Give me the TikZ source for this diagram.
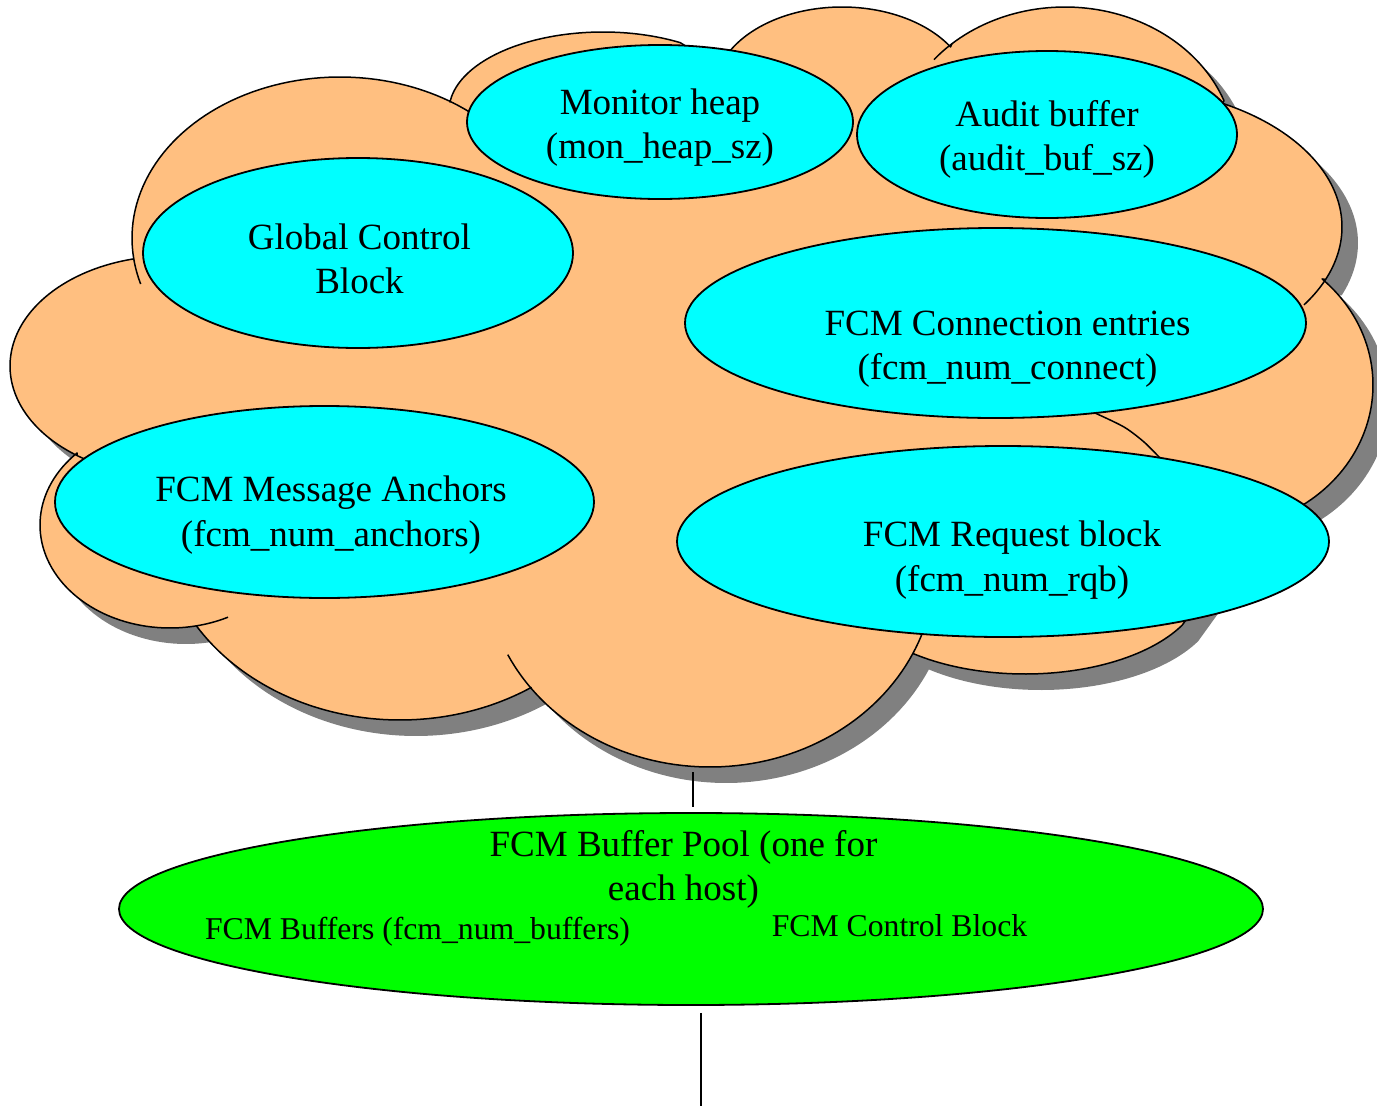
\documentclass[tikz,border=0pt]{standalone}
\usepackage{fontspec}
\setmainfont{Liberation Serif}
\usetikzlibrary{shapes.geometric}
\definecolor{cloudfill}{RGB}{255,191,128}
\definecolor{cloudshadow}{RGB}{128,128,128}
\definecolor{memcyan}{RGB}{0,255,255}
\definecolor{poolgreen}{RGB}{0,255,0}
% elliptic arc of a cloud lobe: centre x, centre y, x radius, y radius, from angle, to angle
\newcommand{\lobe}[6]{plot[domain=#5:#6, samples=60, variable=\t] ({#1+#3*cos(\t)},{#2+#4*sin(\t)})}
\newcommand{\lobeto}[6]{-- plot[domain=#5:#6, samples=60, variable=\t] ({#1+#3*cos(\t)},{#2+#4*sin(\t)})}
\newcommand{\cloudoutline}{%
  \lobe{340}{238}{208}{161}{172.5}{302}
  \lobeto{603}{111}{154}{79}{186.5}{300.1}
  -- (705,58)
  \lobeto{842}{92}{128}{85}{209.6}{328}
  \lobeto{1065}{152}{170}{145}{228.3}{339.3}
  \lobeto{1117}{227}{225}{140}{297.9}{382}
  \lobeto{1213}{385}{160}{145}{313}{435}
  \lobeto{1025}{582}{178}{92}{28}{129}
  \lobeto{710}{567}{225}{200}{25.6}{142.7}
  \lobeto{400}{520}{240}{200}{56.9}{148}
  \lobeto{170}{525}{130}{103}{78.2}{224.4}
  \lobeto{170}{366}{160}{110}{125.5}{256.6}
  -- cycle}
\begin{document}
\begin{tikzpicture}[x=1pt,y=-1pt,
  cloudline/.style={line width=1.5pt, line join=round},
  stubline/.style={line width=1.5pt},
  memblock/.style={ellipse, draw, line width=1.8pt, fill=memcyan, inner sep=0pt},
  poolblock/.style={ellipse, draw, line width=1.8pt, fill=poolgreen, inner sep=0pt},
  bigtext/.style={font=\fontsize{37}{44.5}\selectfont, align=center, inner sep=0pt},
  smalltext/.style={font=\fontsize{31.7}{38}\selectfont, inner sep=0pt, anchor=base},
  conn/.style={line width=1.5pt}]
\useasboundingbox (0,0) rectangle (1377,1106);
% shadow
\begin{scope}[shift={(16,16)}]
\fill[cloudshadow] \cloudoutline;
\end{scope}
% cloud
\filldraw[cloudline, fill=cloudfill] \cloudoutline;
% inner arc ends of the cloud lobes
\draw[stubline] \lobe{340}{238}{208}{161}{163.4}{172.5};
\draw[stubline] \lobe{340}{238}{208}{161}{302}{308.4};
\draw[stubline] \lobe{1065}{152}{170}{145}{219.6}{228.3};
\draw[stubline] \lobe{1117}{227}{225}{140}{382}{393.8};
\draw[stubline] \lobe{710}{567}{225}{200}{19}{25.6};
\draw[stubline] \lobe{710}{567}{225}{200}{142.7}{154};
\draw[stubline] \lobe{170}{525}{130}{103}{63.5}{78.2};
\draw[stubline] \lobe{170}{366}{160}{110}{118}{125.5};
\draw[stubline] plot[smooth] coordinates {(1095,413) (1124,427) (1144,442) (1160,458)};
% memory blocks
\node[memblock, minimum width=386pt, minimum height=154pt] (mh) at (660,122) {};
\node[memblock, minimum width=380pt, minimum height=167pt] (ab) at (1047,134.5) {};
\node[memblock, minimum width=430pt, minimum height=190pt] (gcb) at (358,253) {};
\node[memblock, minimum width=621pt, minimum height=190pt] (fce) at (995.5,323) {};
\node[memblock, minimum width=539pt, minimum height=192pt] (fma) at (324.5,502) {};
\node[memblock, minimum width=652pt, minimum height=191pt] (frb) at (1003,541.5) {};
\node[bigtext] (mhT) at (660,127.4) {\strut Monitor heap\\\strut (mon\_heap\_sz)};
\node[bigtext] (abT) at (1047,139.4) {\strut Audit buffer\\\strut (audit\_buf\_sz)};
\node[bigtext] (gcbT) at (359.5,262.6) {\strut Global Control\\\strut Block};
\node[bigtext] (fceT) at (1007.5,348.4) {\strut FCM Connection entries\\\strut (fcm\_num\_connect)};
\node[bigtext] (fmaT) at (331,515) {\strut FCM Message Anchors\\\strut (fcm\_num\_anchors)};
\node[bigtext] (frbT) at (1012,560) {\strut FCM Request block\\\strut (fcm\_num\_rqb)};
% buffer pool
\node[poolblock, minimum width=1144pt, minimum height=192pt] (pool) at (691,909) {};
\node[bigtext] (poolT) at (683.5,869.4) {\strut FCM Buffer Pool (one for\\\strut each host)};
\node[smalltext] (bufT) at (417.5,939) {FCM Buffers (fcm\_num\_buffers)};
\node[smalltext] (cbT) at (899.5,936) {FCM Control Block};
% connectors
\coordinate (cbot) at (693,772);
\coordinate (pend) at (701,1106);
\draw[conn, shorten >=5pt] (cbot) -- (cbot |- pool.north);
\draw[conn, shorten <=7pt] (pend |- pool.south) -- (pend);
\end{tikzpicture}
\end{document}
